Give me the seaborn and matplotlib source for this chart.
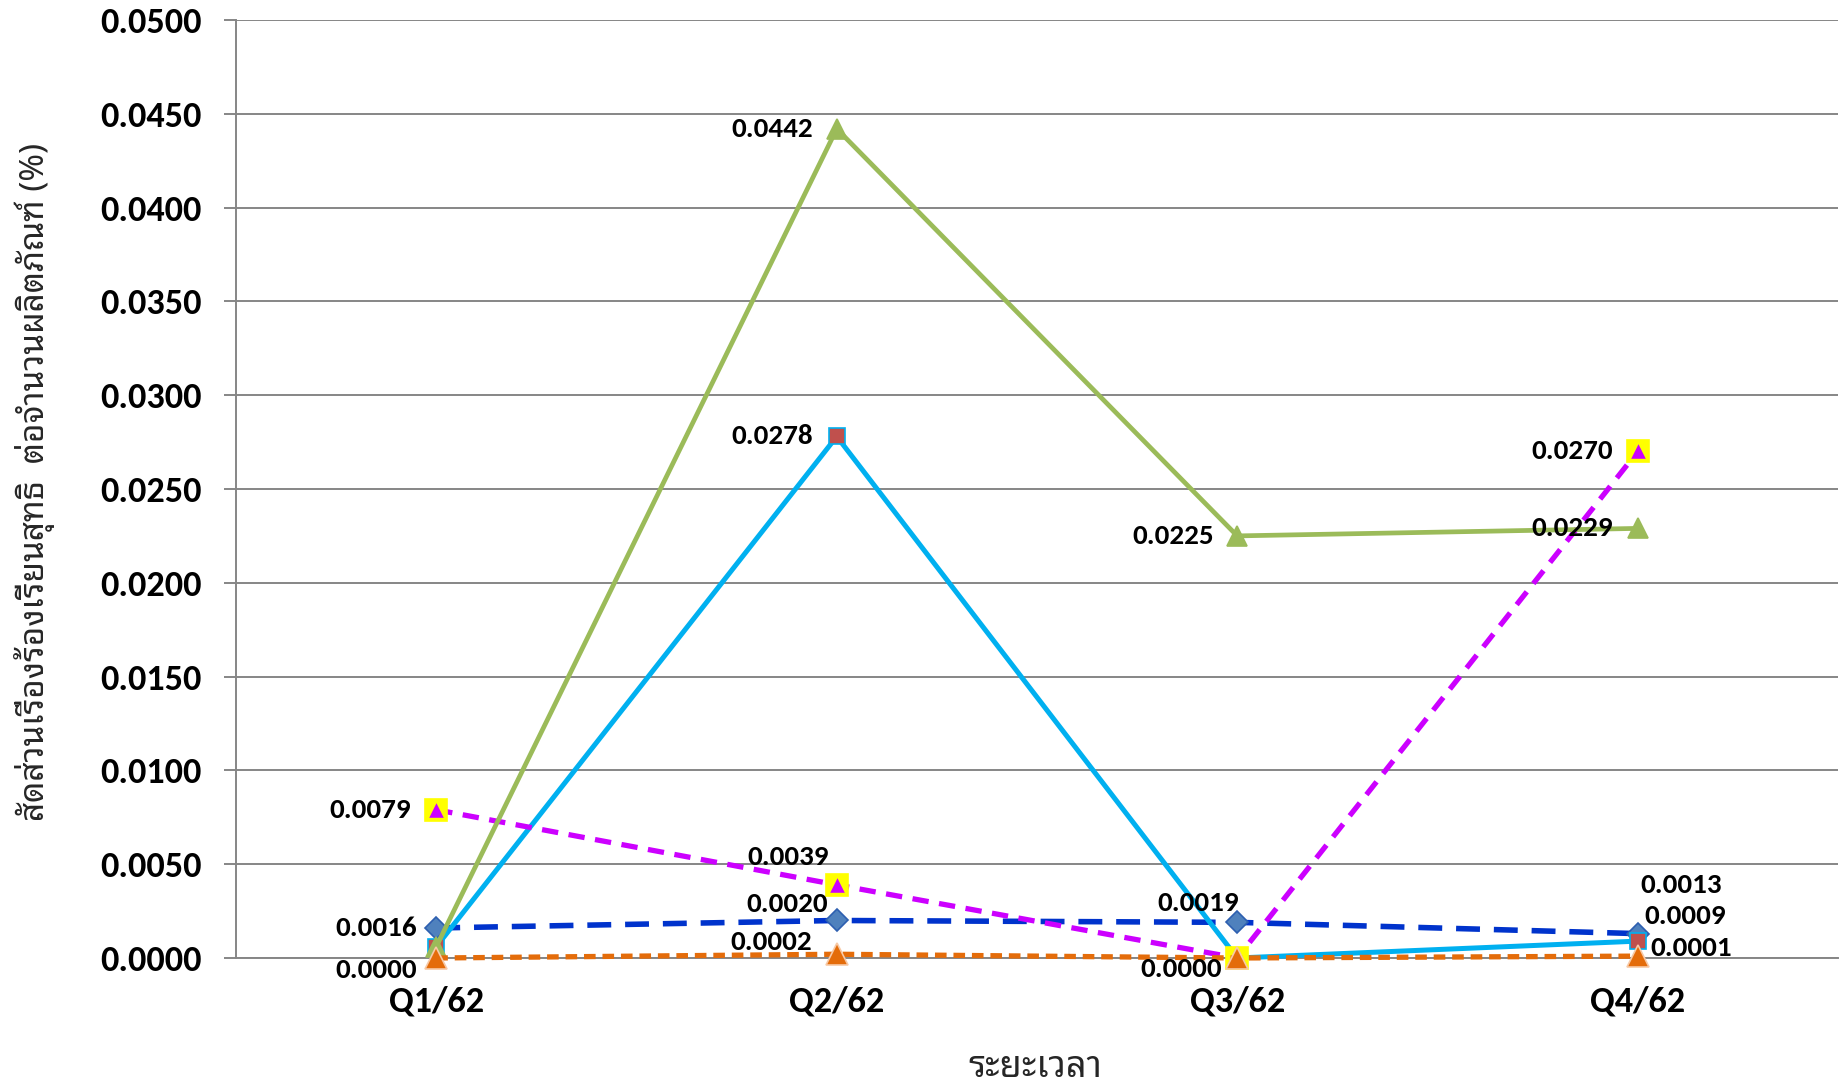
"""กราฟสัดส่วนเรื่องร้องเรียนสุทธิต่อจำนวนผลิตภัณฑ์ รายไตรมาส ปี 62"""

import matplotlib

matplotlib.use("Agg")

import matplotlib.pyplot as plt  # noqa: E402
import pandas as pd  # noqa: E402
import seaborn as sns  # noqa: E402

quarters = ["Q1/62", "Q2/62", "Q3/62", "Q4/62"]

green_vals = [0.0006, 0.0442, 0.0225, 0.0229]
cyan_vals = [0.0006, 0.0278, 0.0000, 0.0009]
purple_vals = [0.0079, 0.0039, 0.0000, 0.0270]
blue_vals = [0.0016, 0.0020, 0.0019, 0.0013]
orange_vals = [0.0000, 0.0002, 0.0000, 0.0001]

y_ticks = [0.0, 0.005, 0.01, 0.015, 0.02, 0.025, 0.03, 0.035, 0.04, 0.045, 0.05]

x_title = "ระยะเวลา"
y_title = "สัดส่วนเรื่องร้องเรียนสุทธิ  ต่อจำนวนผลิตภัณฑ์ (%)"

LATIN = ["Carlito", "Lato", "DejaVu Sans"]
THAI = ["Noto Sans Thai Looped", "Loma", "Noto Sans Thai", "DejaVu Sans"]

sns.set_theme(style="white")
plt.rcParams["font.family"] = LATIN

fig = plt.figure(figsize=(18.43, 10.92), dpi=100)
ax = fig.add_axes([236 / 1843, 1 - 958 / 1092, (1838 - 236) / 1843, (958 - 20) / 1092])


def _draw(vals, color, ls, lw, marker, mfc, mec, ms, z):
    df = pd.DataFrame({"q": quarters, "v": vals})
    sns.lineplot(
        data=df, x="q", y="v", ax=ax, color=color, linestyle=ls, linewidth=lw,
        marker=marker, markerfacecolor=mfc, markeredgecolor=mec, markersize=ms,
        markeredgewidth=1.2, zorder=z, sort=False, clip_on=False,
    )


# ลำดับการวาดตามกราฟเดิม
_draw(blue_vals, "#0033CC", (0, (4.3, 2.5)), 4.0, "D", "#4F81BD", "#2D5FB0", 11, 4)
_draw(cyan_vals, "#00B0F0", "-", 3.6, "s", "#C0504D", "#00B0F0", 12, 5)
_draw(purple_vals, "#CC00FF", (0, (3.1, 2.0)), 3.8, "s", "#FFFF00", "#FFFF00", 16, 6)
ax.scatter(range(len(quarters)), purple_vals, marker="^", s=110, color="#CC00FF",
           linewidths=0, zorder=7, clip_on=False)
_draw(green_vals, "#9BBB59", "-", 3.4, "^", "#9BBB59", "#9BBB59", 15, 7)
_draw(orange_vals, "#E46C0A", (0, (2.2, 1.3)), 3.8, "^", "#E46C0A", "#F7C9A6", 16, 8)

# ป้ายตัวเลข: (ค่า, ตำแหน่ง x, dx, dy, ha) หน่วย points
labels = [
    (purple_vals, 0, -18, 0, "right"), (blue_vals, 0, -14, 0, "right"),
    (orange_vals, 0, -14, -9, "right"),
    (green_vals, 1, -17, 0, "right"), (cyan_vals, 1, -17, 0, "right"),
    (purple_vals, 1, -6, 20, "right"), (blue_vals, 1, -6, 12, "right"),
    (orange_vals, 1, -18, 9, "right"),
    (green_vals, 2, -17, 0, "right"), (blue_vals, 2, 1, 14, "right"),
    (orange_vals, 2, -11, -8, "right"),
    (purple_vals, 3, -18, 0, "right"), (green_vals, 3, -18, 0, "right"),
    (blue_vals, 3, 2, 35, "left"), (cyan_vals, 3, 5, 18, "left"),
    (orange_vals, 3, 9, 6, "left"),
]
for vals, i, dx, dy, ha in labels:
    ax.annotate(f"{vals[i]:.4f}", (i, vals[i]), xytext=(dx, dy), textcoords="offset points",
                ha=ha, va="center", fontsize=21, fontweight="bold", color="black", zorder=10)

ax.set_xlim(-0.5, 3.5)
ax.set_ylim(0, 0.05)
ax.set_yticks(y_ticks)
ax.set_yticklabels([f"{t:.4f}" for t in y_ticks], fontsize=26, fontweight="bold")
ax.set_xticks(range(len(quarters)))
ax.set_xticklabels(quarters, fontsize=26, fontweight="bold")
ax.set_xticks([-0.5, 0.5, 1.5, 2.5, 3.5], minor=True)
ax.tick_params(axis="x", which="major", length=0, pad=20, colors="black")
ax.tick_params(axis="x", which="minor", length=9, width=1.4, color="#868686", direction="out")
ax.tick_params(axis="y", length=9, width=1.4, color="#868686", direction="out", pad=16,
               labelcolor="black", left=True)
ax.grid(axis="y", color="#868686", linewidth=1.4)
ax.set_axisbelow(True)
ax.set_xlabel("")
ax.set_ylabel("")
for side in ("top", "right"):
    ax.spines[side].set_visible(False)
for side in ("left", "bottom"):
    ax.spines[side].set_color("#868686")
    ax.spines[side].set_linewidth(1.4)

fig.text(1035 / 1843, 1 - 1068 / 1092, x_title, ha="center", va="center", fontsize=26,
         family=THAI)
fig.text(35 / 1843, 1 - 482 / 1092, y_title, ha="center", va="center", rotation=90,
         fontsize=24, family=THAI)

fig.savefig("out.png", dpi=100)
